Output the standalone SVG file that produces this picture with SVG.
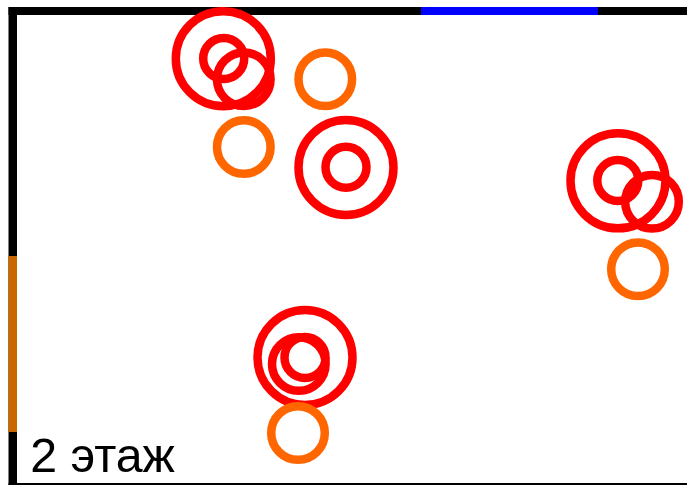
<svg xmlns="http://www.w3.org/2000/svg" width="687" height="485" viewBox="0 0 687 485">
<style>
.red{fill:none;stroke:#f00;stroke-width:8.5}
.orange{fill:none;stroke:#f60;stroke-width:8.5}
.label{font-family:"Liberation Sans",Arial,sans-serif;font-size:48.3px;fill:#000}
</style>
<rect width="687" height="485" fill="#fff"/>
<g id="walls">
<rect x="8.5" y="7" width="678.5" height="8"/>
<rect x="8.5" y="7" width="8.5" height="478"/>
<rect x="8.5" y="483" width="678.5" height="2"/>
<rect x="421" y="7" width="177" height="8" fill="#00f"/>
<rect x="8.5" y="256" width="8.5" height="176" fill="#c60"/>
</g>
<g id="cluster-1">
<circle class="red" cx="223.3" cy="58.7" r="47.5"/>
<circle class="red" cx="223.7" cy="58.4" r="20.5"/>
<circle class="red" cx="243.8" cy="79.2" r="26.8"/>
</g>
<circle id="orange-1" class="orange" cx="325.3" cy="79.2" r="26.8"/>
<circle id="orange-2" class="orange" cx="243.8" cy="147" r="26.8"/>
<g id="cluster-2">
<circle class="red" cx="346" cy="167.5" r="47.5"/>
<circle class="red" cx="346" cy="167.3" r="20.5"/>
</g>
<g id="cluster-3">
<circle class="red" cx="618" cy="180.8" r="47.5"/>
<circle class="red" cx="617.8" cy="180.5" r="20.5"/>
<circle class="red" cx="652" cy="201.7" r="26.8"/>
</g>
<circle id="orange-3" class="orange" cx="638" cy="269.3" r="26.8"/>
<g id="cluster-4">
<circle class="red" cx="305" cy="357.5" r="47.5"/>
<circle class="red" cx="298.8" cy="364" r="26.8"/>
<circle class="red" cx="305" cy="357.5" r="20.5"/>
</g>
<circle id="orange-4" class="orange" cx="298" cy="433" r="26.8"/>
<text class="label" x="30.3" y="472">2 этаж</text>
</svg>
